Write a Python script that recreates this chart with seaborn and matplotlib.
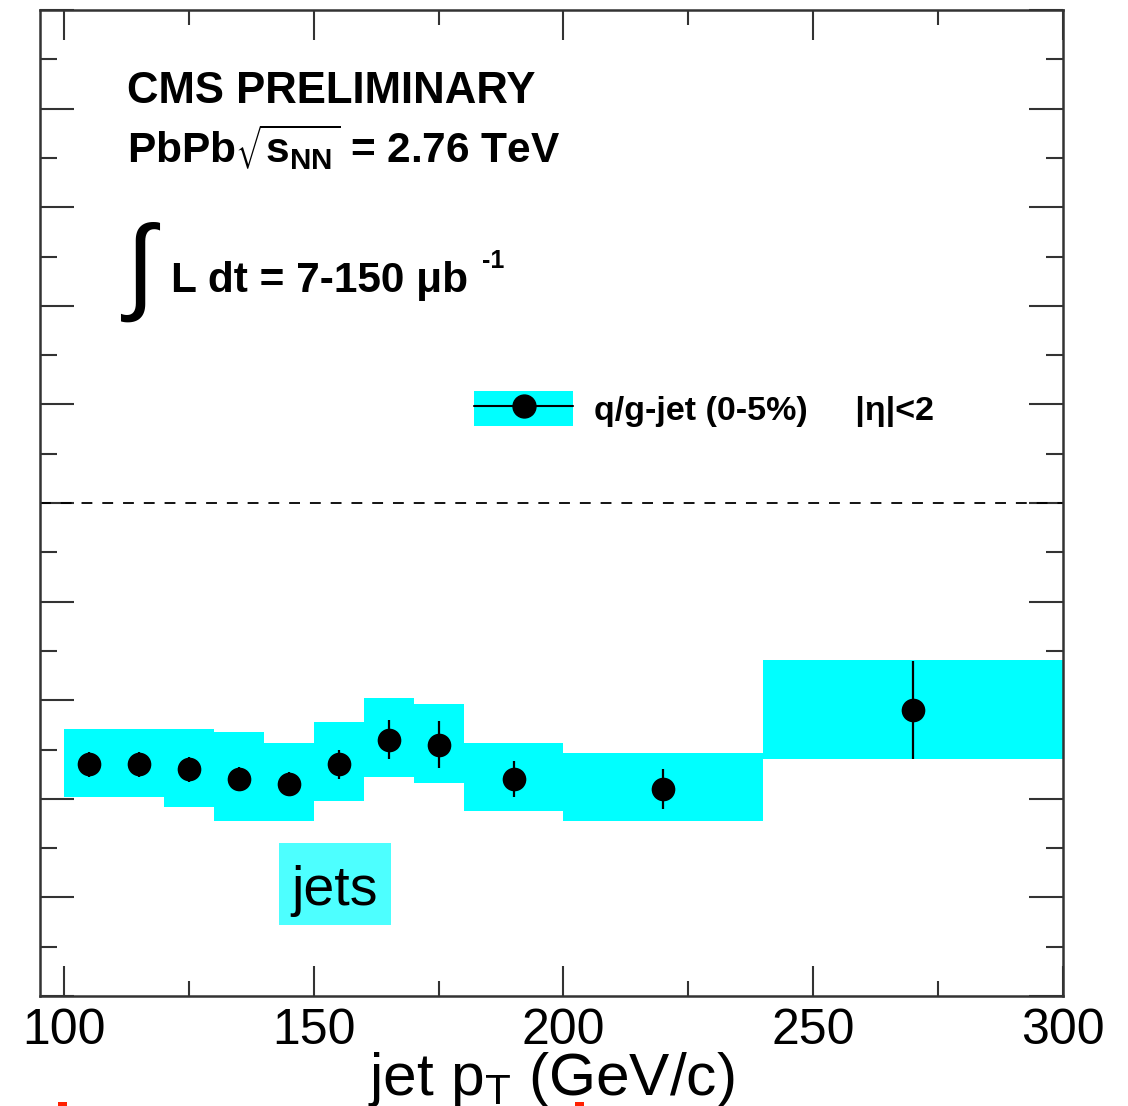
import numpy as np
import pandas as pd
import matplotlib
matplotlib.use("Agg")
import matplotlib.pyplot as plt
import seaborn as sns
from matplotlib.lines import Line2D
from matplotlib.patches import Patch, Rectangle
from matplotlib.legend_handler import HandlerTuple
from matplotlib.ticker import MultipleLocator

# jet pT bins (GeV/c)
bin_lo = [100, 110, 120, 130, 140, 150, 160, 170, 180, 200, 240]
bin_hi = [110, 120, 130, 140, 150, 160, 170, 180, 200, 240, 300]
pt_center = [105, 115, 125, 135, 145, 155, 165, 175, 190, 220, 270]

# measured ratio with statistical uncertainty
ratio = [0.47, 0.47, 0.46, 0.44, 0.43, 0.47, 0.52, 0.51, 0.44, 0.42, 0.58]
stat_err = [0.025, 0.025, 0.025, 0.025, 0.025, 0.03, 0.04, 0.047, 0.037, 0.04, 0.10]

# systematic band (lower / upper edge)
sys_lo = [0.404, 0.404, 0.383, 0.355, 0.355, 0.396, 0.444, 0.432, 0.375, 0.355, 0.481]
sys_hi = [0.542, 0.542, 0.542, 0.536, 0.513, 0.556, 0.605, 0.592, 0.513, 0.493, 0.682]

x_ticks = [100, 150, 200, 250, 300]
x_tick_labels = ["100", "150", "200", "250", "300"]

df = pd.DataFrame({"pt": pt_center, "ratio": ratio, "stat": stat_err,
                   "lo": sys_lo, "hi": sys_hi, "left": bin_lo,
                   "width": np.array(bin_hi) - np.array(bin_lo)})

sns.set_theme(style="ticks")
plt.rcParams["font.family"] = ["Liberation Sans", "DejaVu Sans"]
plt.rcParams["mathtext.default"] = "regular"
plt.rcParams["text.color"] = "black"
plt.rcParams["axes.labelcolor"] = "black"

W, H = 1128, 1106
fig = plt.figure(figsize=(W / 100, H / 100), dpi=100)
fig.patch.set_facecolor("white")


def fx(px):
    return px / W


def fy(py):
    return 1 - py / H


ax = fig.add_axes([fx(39.5), fy(996), (1063 - 39.5) / W, (996 - 10) / H])
ax.set_facecolor("white")

CYAN = "#00FFFF"
FRAME = "#333333"

# systematic boxes
ax.bar(df["left"], df["hi"] - df["lo"], bottom=df["lo"], width=df["width"],
       align="edge", color=CYAN, linewidth=0, zorder=1)

# statistical error bars and points
ax.errorbar(df["pt"], df["ratio"], yerr=df["stat"], fmt="none",
            ecolor="black", elinewidth=1.6, capsize=0, zorder=2)
sns.scatterplot(data=df, x="pt", y="ratio", ax=ax, color="black",
                edgecolor="black", s=290, marker="o", linewidth=0,
                zorder=3, legend=False)

# reference line at unity
ax.axhline(1.0, color="black", linewidth=1.3, linestyle=(0, (6, 5.5)), zorder=1)

ax.set_xlim(95.1, 300)
ax.set_ylim(0, 2)
ax.set_xticks(x_ticks)
ax.set_xticklabels(x_tick_labels)
ax.xaxis.set_minor_locator(MultipleLocator(25))
ax.yaxis.set_major_locator(MultipleLocator(0.2))
ax.yaxis.set_minor_locator(MultipleLocator(0.1))
ax.tick_params(axis="x", which="major", direction="in", length=21.5, width=1.5,
               color=FRAME, top=True, bottom=True, labelsize=36, pad=9.0,
               labelcolor="black")
ax.tick_params(axis="x", which="minor", direction="in", length=10.8, width=1.5,
               color=FRAME, top=True, bottom=True)
ax.tick_params(axis="y", which="major", direction="in", length=24.5, width=1.5,
               color=FRAME, left=True, right=True, labelleft=False)
ax.tick_params(axis="y", which="minor", direction="in", length=12.2, width=1.5,
               color=FRAME, left=True, right=True)
for sp in ax.spines.values():
    sp.set_visible(True)
    sp.set_color(FRAME)
    sp.set_linewidth(1.8)
ax.set_ylabel("")

ax.set_xlabel(r"jet p$_{T}$ (GeV/c)", fontsize=43.5, color="black")
ax.xaxis.set_label_coords(0.5, (996 - 1095) / 986, transform=ax.transAxes)
ax.xaxis.label.set_va("baseline")

# legend
h_band = Patch(facecolor=CYAN, edgecolor="none")
h_pt = Line2D([], [], color="black", marker="o", markersize=16.5, linewidth=1.5)
leg = ax.legend([(h_band, h_pt)], ["q/g-jet (0-5%)     |\u03b7|<2"],
                handler_map={tuple: HandlerTuple(ndivide=1, pad=0)},
                loc="center left", bbox_to_anchor=((474 - 39.5) / 1023.5, (996 - 409) / 986),
                frameon=False, borderpad=0, borderaxespad=0,
                handlelength=99 / 34, handleheight=40 / 34, handletextpad=0.62,
                prop={"family": "Liberation Sans", "weight": "bold", "size": 24.5})
for t in leg.get_texts():
    t.set_color("black")

# header texts
fig.text(fx(127), fy(103), "CMS PRELIMINARY", fontsize=31.5, fontweight="bold",
         va="baseline", ha="left")
fig.text(fx(127), fy(163), r"PbPb$\sqrt{s_{NN}}$ = 2.76 TeV", fontsize=30.5,
         fontweight="bold", va="baseline", ha="left")
fig.text(fx(141), fy(272), r"$\int$", fontsize=76, math_fontfamily="cm",
         va="center", ha="center")
fig.text(fx(171), fy(292), "L dt = 7-150 \u03bcb", fontsize=30.5,
         fontweight="bold", va="baseline", ha="left")
fig.text(fx(482), fy(268), "-1", fontsize=18, fontweight="bold",
         va="baseline", ha="left")

# category tag
fig.patches.append(Rectangle((fx(279), fy(925)), (391 - 279) / W, (925 - 843) / H,
                             transform=fig.transFigure, facecolor="#4DFFFF",
                             edgecolor="none", zorder=5))
fig.text(fx(335), fy(905), "jets", fontsize=40, va="baseline", ha="center", zorder=6)

# edge marks at the bottom
for x0 in (58, 575):
    fig.patches.append(Rectangle((fx(x0), 0), 9 / W, 4 / H, transform=fig.transFigure,
                                 facecolor="#FF2000", edgecolor="none"))

fig.savefig("out.png", dpi=100)
